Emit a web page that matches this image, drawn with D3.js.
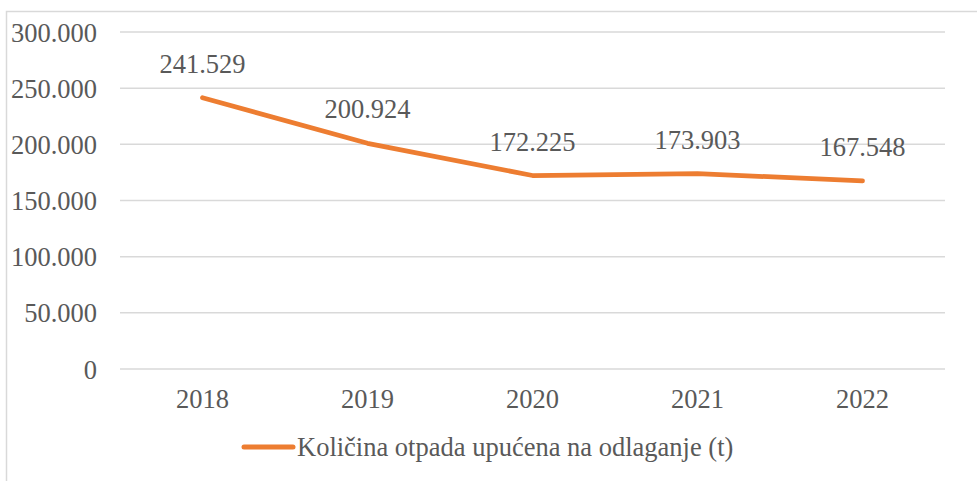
<!DOCTYPE html>
<html>
<head>
<meta charset="utf-8">
<script src="https://cdn.jsdelivr.net/npm/d3@7"></script>
<style>
  body { margin: 0; background: #fff; }
</style>
</head>
<body>
<div id="chart"></div>
<script>
const years = ["2018", "2019", "2020", "2021", "2022"];
const amounts = [241529, 200924, 172225, 173903, 167548];
const yTicks = [0, 50000, 100000, 150000, 200000, 250000, 300000];
const seriesName = "Količina otpada upućena na odlaganje (t)";

let width = 977;
let height = 481;
let margin = { top: 32, right: 32, bottom: 112, left: 120 };
let innerWidth = width - margin.left - margin.right;
let innerHeight = height - margin.top - margin.bottom;
const fontFamily = "'Liberation Serif', 'Times New Roman', serif";
const fontSize = "26.5px";
const textColor = "#595959";

const fmt = v => v === 0 ? "0" : d3.format(",")(v).replace(/,/g, ".");

const svg = d3.select("#chart")
    .append("svg")
    .attr("width", width)
    .attr("height", height);

// chart area border (runs off the right and bottom edges)
svg.append("rect")
    .attr("x", 6.5)
    .attr("y", 11.5)
    .attr("width", width)
    .attr("height", height)
    .attr("fill", "none")
    .attr("stroke", "#d9d9d9")
    .attr("stroke-width", 1.5);

const g = svg.append("g")
    .attr("transform", `translate(${margin.left},${margin.top})`);

const x = d3.scaleBand().domain(years).range([0, innerWidth]);
const y = d3.scaleLinear().domain([0, 300000]).range([innerHeight, 0]);

// Gridlines
g.append("g")
    .selectAll("line")
    .data(yTicks)
    .enter()
    .append("line")
    .attr("x1", 0)
    .attr("x2", innerWidth)
    .attr("y1", d => y(d))
    .attr("y2", d => y(d))
    .attr("stroke", "#d9d9d9")
    .attr("stroke-width", 1.5);

// Axes
const yAxis = g.append("g")
    .call(d3.axisLeft(y).tickValues(yTicks).tickFormat(fmt).tickSize(0).tickPadding(23));
yAxis.select(".domain").remove();
yAxis.selectAll("text")
    .attr("fill", textColor)
    .style("font-family", fontFamily)
    .style("font-size", fontSize)
    .attr("dy", "0.34em");

const xAxis = g.append("g")
    .attr("transform", `translate(0,${innerHeight})`)
    .call(d3.axisBottom(x).tickSize(0).tickPadding(20));
xAxis.select(".domain").remove();
xAxis.selectAll("text")
    .attr("fill", textColor)
    .style("font-family", fontFamily)
    .style("font-size", fontSize);

const cx = d => x(d) + x.bandwidth() / 2;
const points = years.map((yr, i) => ({ year: yr, value: amounts[i] }));

// Line
g.append("path")
    .datum(points)
    .attr("fill", "none")
    .attr("stroke", "#ED7D31")
    .attr("stroke-width", 4.75)
    .attr("stroke-linecap", "round")
    .attr("stroke-linejoin", "round")
    .attr("d", d3.line().x(d => cx(d.year)).y(d => y(d.value)));

// Data labels
g.selectAll(".label")
    .data(points)
    .enter()
    .append("text")
    .attr("class", "label")
    .attr("x", d => cx(d.year))
    .attr("y", d => y(d.value) - 25)
    .attr("text-anchor", "middle")
    .attr("fill", textColor)
    .style("font-family", fontFamily)
    .style("font-size", fontSize)
    .text(d => fmt(d.value));

// Legend
const legend = svg.append("g")
    .attr("transform", "translate(244,447)");
legend.append("line")
    .attr("x1", 0)
    .attr("x2", 49)
    .attr("stroke", "#ED7D31")
    .attr("stroke-width", 5)
    .attr("stroke-linecap", "round");
legend.append("text")
    .attr("x", 53)
    .attr("y", 9)
    .attr("fill", textColor)
    .style("font-family", fontFamily)
    .style("font-size", fontSize)
    .text(seriesName);
</script>
</body>
</html>
